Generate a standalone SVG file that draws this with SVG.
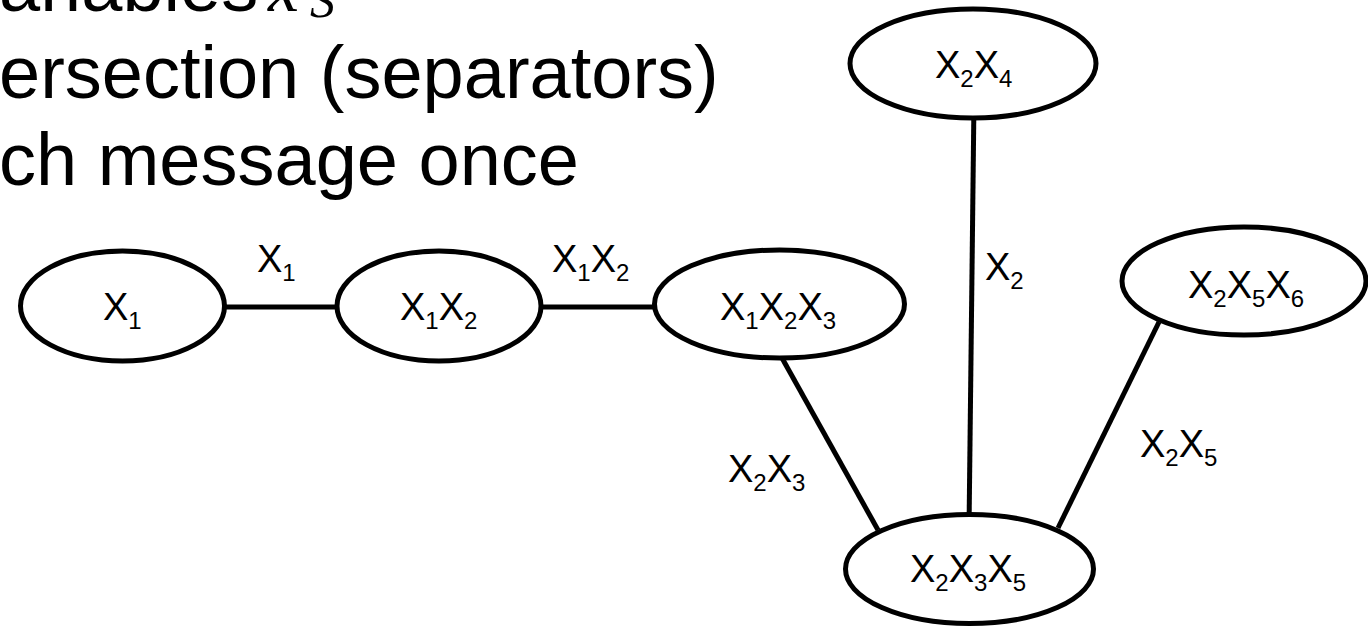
<svg xmlns="http://www.w3.org/2000/svg" width="1368" height="627" viewBox="0 0 1368 627">
<style>
.bul{font-family:"Liberation Sans",Arial,sans-serif;font-size:74px;fill:#000}
.math{font-family:"Liberation Serif","Times New Roman",serif;font-style:italic;fill:#000}
.node ellipse{fill:#fff;stroke:#000;stroke-width:5}
.lbl{font-family:"Liberation Sans",Arial,sans-serif;font-size:38px;fill:#000}
.s{font-size:24px}
#connectors line{stroke:#000;stroke-width:5;fill:none}
</style>
<rect width="1368" height="627" fill="#fff"/>
<g id="heading">
<text class="bul" x="-1" y="11">ariables</text>
<text class="math" x="268" y="11" font-size="70">x</text>
<text class="math" x="310" y="17" font-size="50">S</text>
<text class="bul" x="-1" y="98">ersection (separators)</text>
<text class="bul" x="-1" y="185">ch message once</text>
</g>
<g id="connectors">
<line x1="200" y1="307" x2="360" y2="307"/>
<line x1="520" y1="307" x2="680" y2="307"/>
<line x1="974" y1="100" x2="969" y2="530"/>
<line x1="782" y1="358" x2="878" y2="530"/>
<line x1="1159" y1="322" x2="1058" y2="528"/>
<text class="lbl" x="257" y="272"><tspan>X</tspan><tspan class="s" y="281">1</tspan></text>
<text class="lbl" x="552" y="272"><tspan>X</tspan><tspan class="s" y="281">1</tspan><tspan y="272">X</tspan><tspan class="s" y="281">2</tspan></text>
<text class="lbl" x="985" y="280"><tspan>X</tspan><tspan class="s" y="289">2</tspan></text>
<text class="lbl" x="728" y="482"><tspan>X</tspan><tspan class="s" y="491">2</tspan><tspan y="482">X</tspan><tspan class="s" y="491">3</tspan></text>
<text class="lbl" x="1140" y="457"><tspan>X</tspan><tspan class="s" y="466">2</tspan><tspan y="457">X</tspan><tspan class="s" y="466">5</tspan></text>
</g>
<g id="n_x1" class="node">
<ellipse cx="122.5" cy="306" rx="102" ry="55"/>
<text class="lbl" x="103" y="320"><tspan>X</tspan><tspan class="s" y="329">1</tspan></text>
</g>
<g id="n_x1x2" class="node">
<ellipse cx="439" cy="306" rx="102" ry="55"/>
<text class="lbl" x="400" y="320"><tspan>X</tspan><tspan class="s" y="329">1</tspan><tspan y="320">X</tspan><tspan class="s" y="329">2</tspan></text>
</g>
<g id="n_x1x2x3" class="node">
<ellipse cx="779.5" cy="304" rx="125" ry="54"/>
<text class="lbl" x="720" y="320"><tspan>X</tspan><tspan class="s" y="329">1</tspan><tspan y="320">X</tspan><tspan class="s" y="329">2</tspan><tspan y="320">X</tspan><tspan class="s" y="329">3</tspan></text>
</g>
<g id="n_x2x4" class="node">
<ellipse cx="973" cy="63.5" rx="123" ry="54.5"/>
<text class="lbl" x="935" y="78"><tspan>X</tspan><tspan class="s" y="87">2</tspan><tspan y="78">X</tspan><tspan class="s" y="87">4</tspan></text>
</g>
<g id="n_x2x5x6" class="node">
<ellipse cx="1244" cy="281" rx="122" ry="54"/>
<text class="lbl" x="1188" y="298"><tspan>X</tspan><tspan class="s" y="307">2</tspan><tspan y="298">X</tspan><tspan class="s" y="307">5</tspan><tspan y="298">X</tspan><tspan class="s" y="307">6</tspan></text>
</g>
<g id="n_x2x3x5" class="node">
<ellipse cx="969.5" cy="569" rx="124" ry="54.5"/>
<text class="lbl" x="910" y="582"><tspan>X</tspan><tspan class="s" y="591">2</tspan><tspan y="582">X</tspan><tspan class="s" y="591">3</tspan><tspan y="582">X</tspan><tspan class="s" y="591">5</tspan></text>
</g>
</svg>
